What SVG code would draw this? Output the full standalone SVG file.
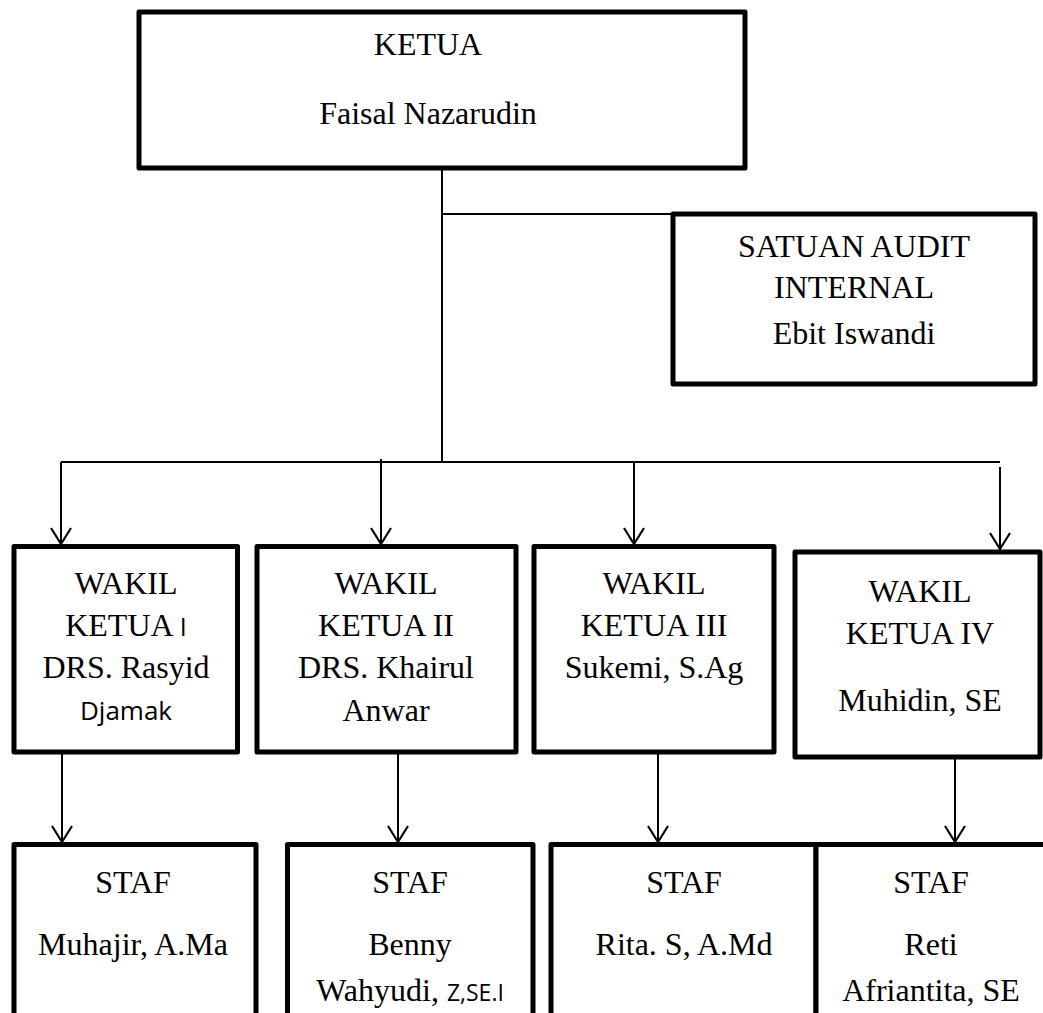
<svg xmlns="http://www.w3.org/2000/svg" width="1043" height="1013" viewBox="0 0 1043 1013">
<style>
.box{fill:#fff;stroke:#000;stroke-width:5;stroke-linejoin:round}
.t{font-family:"Liberation Serif","Times New Roman",serif;font-size:32px;fill:#000;text-anchor:middle}
.s{font-family:"Open Sans","Liberation Sans",sans-serif}
.conn line{stroke:#000;stroke-width:2;fill:none}
</style>
<defs>
<marker id="arr" markerUnits="userSpaceOnUse" markerWidth="24" markerHeight="26" viewBox="-20 -13 24 26" refX="0" refY="0" orient="auto">
<path d="M-16,-10 L0,0 L-16,10" fill="none" stroke="#000" stroke-width="2.2"/>
</marker>
</defs>
<rect width="1043" height="1013" fill="#fff"/>
<g class="conn" id="connectors">
<line x1="442" y1="168" x2="442" y2="462"/>
<line x1="442" y1="214" x2="673" y2="214"/>
<line x1="61" y1="462" x2="1000" y2="462"/>
<line x1="61" y1="462" x2="61" y2="544" marker-end="url(#arr)"/>
<line x1="381" y1="459" x2="381" y2="544" marker-end="url(#arr)"/>
<line x1="634" y1="462" x2="634" y2="544" marker-end="url(#arr)"/>
<line x1="1000" y1="467" x2="1000" y2="549" marker-end="url(#arr)"/>
<line x1="62" y1="752" x2="62" y2="842" marker-end="url(#arr)"/>
<line x1="398" y1="752" x2="398" y2="842" marker-end="url(#arr)"/>
<line x1="658" y1="752" x2="658" y2="842" marker-end="url(#arr)"/>
<line x1="955" y1="752" x2="955" y2="842" marker-end="url(#arr)"/>
</g>
<g id="ketua">
<rect class="box" x="139" y="12" width="606" height="156"/>
<text class="t" x="428" y="55">KETUA</text>
<text class="t" x="428" y="124">Faisal Nazarudin</text>
</g>
<g id="satuan-audit">
<rect class="box" x="673" y="214" width="362" height="170"/>
<text class="t" x="854" y="257">SATUAN AUDIT</text>
<text class="t" x="854" y="298">INTERNAL</text>
<text class="t" x="854" y="344">Ebit Iswandi</text>
</g>
<g id="wakil1">
<rect class="box" x="14" y="546.5" width="223.5" height="205.5"/>
<text class="t" x="126" y="594">WAKIL</text>
<text class="t" x="126" y="636">KETUA <tspan class="s" style="font-size:25px">I</tspan></text>
<text class="t" x="126" y="678">DRS. Rasyid</text>
<text class="t s" x="126" y="720" style="font-size:26px">Djamak</text>
</g>
<g id="wakil2">
<rect class="box" x="257" y="546.5" width="259" height="205.5"/>
<text class="t" x="386" y="594">WAKIL</text>
<text class="t" x="386" y="636">KETUA II</text>
<text class="t" x="386" y="678">DRS. Khairul</text>
<text class="t" x="386" y="721">Anwar</text>
</g>
<g id="wakil3">
<rect class="box" x="534" y="546.5" width="240" height="205.5"/>
<text class="t" x="654" y="594">WAKIL</text>
<text class="t" x="654" y="636">KETUA III</text>
<text class="t" x="654" y="678">Sukemi, S.Ag</text>
</g>
<g id="wakil4">
<rect class="box" x="795" y="552" width="245" height="205"/>
<text class="t" x="920" y="602">WAKIL</text>
<text class="t" x="920" y="644">KETUA IV</text>
<text class="t" x="920" y="711">Muhidin, SE</text>
</g>
<g id="staf1">
<rect class="box" x="14" y="844.5" width="242" height="200"/>
<text class="t" x="133" y="893">STAF</text>
<text class="t" x="133" y="955">Muhajir, A.Ma</text>
</g>
<g id="staf2">
<rect class="box" x="287.5" y="844.5" width="245.5" height="200"/>
<text class="t" x="410" y="893">STAF</text>
<text class="t" x="410" y="955">Benny</text>
<text class="t" x="410" y="1001">Wahyudi, <tspan class="s" style="font-size:23px">Z,SE.I</tspan></text>
</g>
<g id="staf3">
<rect class="box" x="551" y="844.5" width="265" height="200"/>
<text class="t" x="684" y="893">STAF</text>
<text class="t" x="684" y="955">Rita. S, A.Md</text>
</g>
<g id="staf4">
<rect class="box" x="816" y="844.5" width="232" height="200"/>
<text class="t" x="931" y="893">STAF</text>
<text class="t" x="931" y="955">Reti</text>
<text class="t" x="931" y="1001">Afriantita, SE</text>
</g>
</svg>
